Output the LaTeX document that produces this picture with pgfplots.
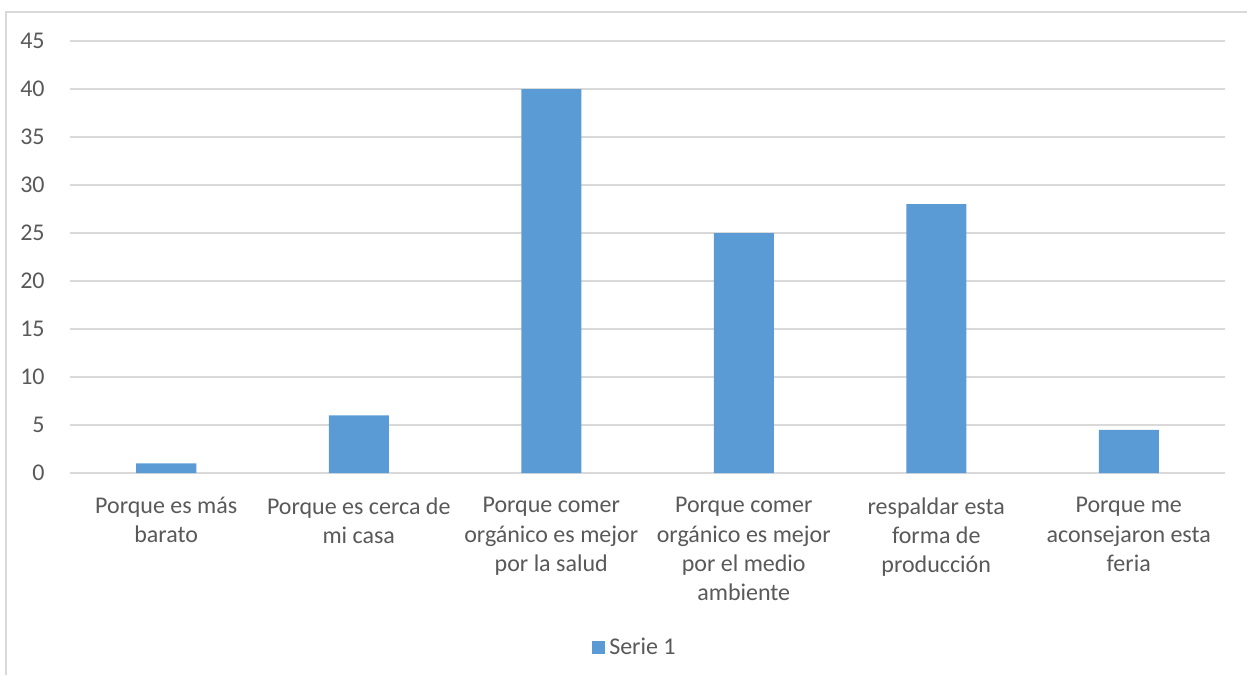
\documentclass[border=0pt]{standalone}
\usepackage{pgfplots}
\pgfplotsset{compat=1.18}
\usepackage{fontspec}
\setmainfont{Carlito}
\definecolor{barblue}{HTML}{5B9BD5}
\definecolor{gridgray}{HTML}{D9D9D9}
\definecolor{txtgray}{HTML}{595959}
\begin{document}
\fontsize{12}{14.5}\selectfont
\begin{tikzpicture}
\path[use as bounding box] (-35pt,-101pt) rectangle (588.5pt,236.5pt);
\draw[gridgray, line width=0.75pt] (-32pt,-101pt) -- (-32pt,230.5pt) -- (588.5pt,230.5pt);
\begin{axis}[
  at={(0,0)}, anchor=south west,
  scale only axis, width=577.5pt, height=216pt,
  xmin=-0.5, xmax=5.5, ymin=0, ymax=45,
  ytick={0,5,...,45},
  xtick={0,1,2,3,4,5},
  xticklabels={{Porque es más\\barato},{Porque es cerca de\\mi casa},{Porque comer\\orgánico es mejor\\por la salud},{Porque comer\\orgánico es mejor\\por el medio\\ambiente},{respaldar esta\\forma de\\producción},{Porque me\\aconsejaron esta\\feria}},
  xticklabel style={align=center, anchor=north, yshift=-8pt, text=txtgray, font=\fontsize{12}{14.6}\selectfont},
  yticklabel style={anchor=east, xshift=-8.5pt, text=txtgray, font=\fontsize{12}{14.5}\selectfont},
  /pgf/number format/assume math mode=true,
  major tick length=0pt,
  axis line style={draw=none},
  ymajorgrids, grid style={gridgray, line width=0.75pt},
  legend style={at={(0.49,-0.405)}, anchor=center, draw=none, font=\fontsize{12}{14.5}\selectfont, text=txtgray, inner sep=1pt},
  legend image code/.code={\fill[barblue] (0pt,-3.25pt) rectangle (6.5pt,3.25pt);},
  clip=false,
]
\addplot[ybar, bar width=30pt, fill=barblue, draw=none] coordinates {(0,1) (1,6) (2,40) (3,25) (4,28) (5,4.5)};
\addlegendentry{Serie 1}
\end{axis}
\end{tikzpicture}
\end{document}
